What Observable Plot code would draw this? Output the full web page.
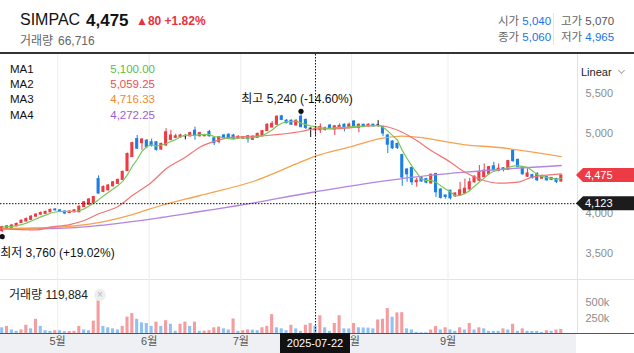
<!DOCTYPE html>
<html><head><meta charset="utf-8">
<script src="https://cdn.jsdelivr.net/npm/d3@7"></script>
<script src="https://cdn.jsdelivr.net/npm/@observablehq/plot@0.6"></script>
<style>
body{margin:0;background:#fff;font-family:'Liberation Sans','Noto Sans CJK KR',sans-serif;}
#root{position:relative;width:634px;height:353px;overflow:hidden;background:#fff;}
.a{position:absolute;white-space:nowrap;line-height:1;}
</style></head><body><div id="root">
<div class="a" style="left:0;top:333px;width:576px;height:20px;background:#eef0f4"></div>
<div class="a" style="left:0;top:333px;width:634px;height:1px;background:#555"></div>
<div class="a" style="left:0;top:52px;width:634px;height:2px;background:#333"></div>
<div class="a" style="left:0;top:279px;width:634px;height:1px;background:#e3e3e3"></div>
<div class="a" style="left:20px;top:12px;font-size:16px;color:#111">SIMPAC</div>
<div class="a" style="left:86px;top:12px;font-size:17px;font-weight:bold;color:#111">4,475</div>
<div class="a" style="left:136px;top:15px;font-size:12px;font-weight:bold;color:#e8323c">▲80 +1.82%</div>
<div class="a" style="left:20px;top:35px;font-size:12px;color:#666">거래량</div>
<div class="a" style="left:58px;top:35px;font-size:12px;color:#666">66,716</div>
<div class="a" style="left:498px;top:16px;font-size:11.5px;color:#666">시가 <span style="color:#1a73e8">5,040</span></div>
<div class="a" style="left:498px;top:32px;font-size:11.5px;color:#666">종가 <span style="color:#1a73e8">5,060</span></div>
<div class="a" style="left:553px;top:13px;width:1px;height:32px;background:#e6e6e6"></div>
<div class="a" style="left:561px;top:16px;font-size:11.5px;color:#666">고가 <span style="color:#555">5,070</span></div>
<div class="a" style="left:561px;top:32px;font-size:11.5px;color:#666">저가 <span style="color:#1a73e8">4,965</span></div>
<div class="a" style="left:581px;top:67px;font-size:11px;color:#222">Linear</div>
<div class="a" style="left:619px;top:68px;width:4px;height:4px;border-right:1px solid #aaa;border-bottom:1px solid #aaa;transform:rotate(45deg)"></div>
</div>
<script>
// ---- data ----
const openP  = [3780,3810,3820,3840,3880,3900,3920,3960,3985,3995,4015,4050,4040,4025,4005,4015,4015,4080,4110,4130,
4430,4270,4290,4340,4370,4420,4530,4705,4930,4880,4910,4890,4890,4800,4850,4920,4945,4950,4965,4965,
5035,4965,4965,5020,4940,4895,4975,4985,4975,4935,4935,4965,4920,4945,4965,5030,5075,5110,5215,5160,
5160,5100,5210,5170,5060,5040,5040,5045,5100,5050,5075,5110,5080,5150,5070,5110,5090,5110,5100,5080,
4975,4900,4870,4730,4550,4570,4390,4450,4430,4375,4495,4300,4225,4285,4215,4230,4250,4300,4390,4410,
4455,4495,4590,4530,4565,4545,4785,4670,4580,4460,4480,4495,4435,4455,4420,4430,4400];
const highP  = [3840,3850,3860,3880,3920,3945,3975,4000,4020,4030,4055,4060,4050,4030,4035,4045,4095,4150,4185,4215,
4470,4345,4360,4400,4430,4530,4755,4890,4975,4935,4925,4930,4900,4880,5060,5040,4990,4990,4985,5015,
5080,5015,4990,5040,4955,4960,4990,4995,4990,4970,4960,4975,4970,5005,5035,5120,5150,5220,5225,5175,
5170,5170,5240,5180,5070,5070,5120,5080,5110,5100,5120,5120,5130,5160,5120,5115,5120,5115,5160,5090,
4990,4910,4880,4740,4560,4580,4440,4460,4440,4490,4500,4310,4230,4290,4260,4390,4430,4440,4470,4600,
4620,4590,4640,4620,4575,4665,4800,4680,4590,4560,4490,4510,4480,4460,4450,4440,4480];
const lowP   = [3760,3800,3815,3835,3875,3895,3915,3955,3980,3990,4010,4030,4010,3985,4000,4010,4010,4075,4105,4125,
4240,4260,4280,4330,4365,4415,4525,4700,4800,4790,4810,4830,4780,4790,4840,4910,4935,4940,4920,4955,
4915,4955,4960,4955,4850,4870,4930,4925,4925,4930,4930,4880,4915,4940,4960,5025,5070,5100,5160,5120,
5100,5095,5070,5050,4950,4965,5000,5030,5050,4975,5060,5020,5060,5070,5010,5080,5080,5080,5080,4960,
4750,4800,4800,4340,4390,4350,4330,4390,4370,4370,4200,4180,4180,4170,4200,4215,4240,4290,4380,4400,
4445,4480,4530,4520,4520,4540,4640,4570,4480,4450,4430,4400,4430,4405,4410,4375,4390];
const closeP = [3830,3840,3850,3870,3910,3930,3960,3985,4005,4020,4045,4040,4020,4000,4025,4040,4085,4140,4175,4205,
4250,4330,4350,4390,4420,4520,4745,4880,4810,4925,4830,4850,4795,4870,5015,4975,4965,4975,4965,5005,
4975,5005,4980,4965,4880,4955,4945,4935,4935,4960,4955,4930,4960,4995,5030,5110,5120,5210,5170,5130,
5110,5160,5080,5070,5060,5060,5080,5065,5060,5090,5095,5060,5110,5080,5110,5090,5110,5090,5100,5000,
4860,4815,4820,4450,4490,4390,4410,4400,4385,4485,4265,4195,4205,4190,4250,4290,4310,4390,4460,4515,
4535,4580,4545,4560,4545,4655,4655,4580,4490,4500,4445,4415,4470,4415,4445,4395,4475];
const volume = [93000,116000,58000,35000,58000,134000,76000,232000,116000,46000,
35000,46000,44000,30000,33000,36000,116000,58000,46000,203000,
535000,116000,93000,76000,58000,116000,267000,325000,232000,174000,
163000,116000,186000,116000,209000,151000,35000,151000,186000,116000,
186000,35000,38000,46000,93000,105000,76000,58000,238000,35000,
46000,58000,55000,46000,93000,116000,308000,93000,76000,46000,
134000,76000,35000,134000,163000,119884,290000,93000,35000,163000,
290000,76000,74000,163000,93000,90000,88000,76000,221000,232000,
407000,267000,337000,340000,76000,58000,17000,12000,12000,58000,
116000,58000,93000,58000,35000,93000,58000,163000,58000,93000,
76000,35000,35000,35000,76000,58000,151000,35000,76000,35000,
35000,35000,17000,46000,35000,58000,66716];
// moving averages (index, value)
const ma2Idx = [0,7,10,14,17,20,24,27,31,34,38,41,45,48,55,62,65,69,78,83,86,89,93,96,100,103,107,110,116];
const ma2Val = [3809,3796,3829,3862,3912,3996,4087,4225,4391,4559,4704,4829,4921,4954,4975,5025,5059,5059,5100,5016,4912,4787,4641,4516,4412,4379,4391,4454,4496];
const ma3Idx = [0,10,20,27,33,41,52,62,65,72,79,83,86,96,103,116];
const ma3Val = [3812,3825,3887,3987,4100,4225,4400,4645,4716,4829,4941,4966,4954,4859,4825,4712];
const ma4Idx = [0,10,20,33,41,49,65,83,96,116];
const ma4Val = [3812,3812,3850,3950,4025,4100,4272,4437,4516,4600];
const monthStart = [12,31,50,73,93];
const monthLabel = ["5월","6월","7월","8월","9월"];
const priceTicks = [3500,4000,5000,5500];
const volTicks = [250000,500000];
const maNames = ["MA1","MA2","MA3","MA4"];
const maValues = ["5,100.00","5,059.25","4,716.33","4,272.25"];
const maColors = ["#5dbb46","#ef4b55","#f5891f","#9a5fd2"];
const maLineColors = ["#79c85a","#f37474","#f7a24e","#b384e2"];
const crossIdx = 65, crossLabel = "2025-07-22";
const lastPrice = 4475, crossPrice = 4123;
const hiIdx = 62, hiVal = 5240, hiLabel = "최고 5,240 (-14.60%)";
const loIdx = 0, loVal = 3760, loLabel = "최저 3,760 (+19.02%)";

// ---- build ----
const RED = "#ec3b45", BLUE = "#1b7fe3";
const FONT = "'Liberation Sans','Noto Sans CJK KR',sans-serif";
const candles = closeP.map((c, i) => ({i, o: openP[i], h: highP[i], l: lowP[i], c, v: volume[i],
  vup: i > 0 && volume[i] > volume[i - 1]}));
const col = d => d.c > d.o ? RED : d.c < d.o ? BLUE : "#111";
const pts = (ix, vals) => ix.map((x, k) => ({x, y: vals[k]}));
const xDomain = [-0.353, 119.36];
const grid = monthStart.map(s => s - 0.5);
const root = document.getElementById("root");
const style = {background: "transparent", fontFamily: FONT, fontSize: "11px", overflow: "visible"};

const price = Plot.plot({
  width: 634, height: 225, marginTop: 0, marginBottom: 0, marginLeft: 0, marginRight: 57,
  x: {domain: xDomain, axis: null},
  y: {domain: [3175, 5987.5], axis: null},
  style,
  marks: [
    Plot.ruleX(grid, {stroke: "#ededed"}),
    Plot.ruleX([xDomain[1]], {stroke: "#e2e2e2"}),
    Plot.axisY({anchor: "right", ticks: priceTicks, tickFormat: d3.format(","), tickSize: 0, tickPadding: 8, fill: "#8c8c8c", fontSize: 11, label: null}),
    Plot.ruleX(candles, {x: "i", y1: "l", y2: "h", stroke: col, strokeWidth: 1}),
    Plot.rect(candles, {x1: d => d.i - 0.32, x2: d => d.i + 0.32, y1: "o", y2: "c", fill: col, insetTop: -0.5, insetBottom: -0.5}),
    Plot.line(pts(ma4Idx, ma4Val), {x: "x", y: "y", curve: "monotone-x", stroke: maLineColors[3], strokeWidth: 1.3}),
    Plot.line(pts(ma3Idx, ma3Val), {x: "x", y: "y", curve: "monotone-x", stroke: maLineColors[2], strokeWidth: 1.3}),
    Plot.line(pts(ma2Idx, ma2Val), {x: "x", y: "y", curve: "monotone-x", stroke: maLineColors[1], strokeWidth: 1.2}),
    Plot.lineY(candles, Plot.windowY({k: 5, anchor: "end"}, {x: "i", y: "c", stroke: maLineColors[0], strokeWidth: 1.2})),
    Plot.ruleY([crossPrice], {stroke: "#111", strokeDasharray: "1.5,1.5"}),
    Plot.ruleX([crossIdx], {stroke: "#111", strokeDasharray: "1.5,1.5"}),
    Plot.dot([{x: hiIdx, y: hiVal}], {x: "x", y: "y", r: 2.6, fill: "#111", dy: -3}),
    Plot.dot([{x: loIdx, y: loVal}], {x: "x", y: "y", r: 2.6, fill: "#111", dy: 4}),
    Plot.text([{x: hiIdx, y: hiVal, t: hiLabel}], {x: "x", y: "y", text: "t", dy: -15, dx: -4, fontSize: 12, fill: "#111"}),
    Plot.text([{x: loIdx, y: loVal, t: loLabel}], {x: "x", y: "y", text: "t", dy: 20, dx: -2, textAnchor: "start", fontSize: 12, fill: "#111"})
  ]
});
price.style.position = "absolute"; price.style.left = "0px"; price.style.top = "54px";
root.appendChild(price);

// price tags on the right axis
const ys = price.scale("y");
const psvg = d3.select(price);
[[lastPrice, "#ec3b45"], [crossPrice, "#1c1c1c"]].forEach(([v, f]) => {
  const y = ys.apply(v), x0 = 576;
  psvg.append("path").attr("d", `M${x0},${y} L${x0 + 7},${y - 7} H634 V${y + 7} H${x0 + 7} Z`).attr("fill", f);
  psvg.append("text").attr("x", 585).attr("y", y).attr("dy", "0.35em").attr("fill", "#fff")
    .attr("text-anchor", "start").attr("font-size", 11).attr("font-family", FONT).text(d3.format(",")(v));
});

const vol = Plot.plot({
  width: 634, height: 74, marginTop: 0, marginBottom: 20, marginLeft: 0, marginRight: 57,
  x: {domain: xDomain, axis: null},
  y: {domain: [0, 882000], axis: null},
  style,
  marks: [
    Plot.ruleX(grid, {stroke: "#ededed"}),
    Plot.ruleX([xDomain[1]], {stroke: "#e2e2e2"}),
    Plot.rect(candles, {x1: d => d.i - 0.32, x2: d => d.i + 0.32, y1: 0, y2: "v", fill: d => d.vup ? "#f49ca0" : "#8fc2f3"}),
    Plot.axisY({anchor: "right", ticks: volTicks, tickFormat: d => d / 1000 + "k", tickSize: 0, tickPadding: 8, fill: "#8c8c8c", fontSize: 11, label: null}),
    Plot.axisX({ticks: grid, tickFormat: d => monthLabel[grid.indexOf(d)], tickSize: 0, tickPadding: 4, fill: "#555", fontSize: 11, label: null}),
    Plot.ruleX([crossIdx], {stroke: "#111", strokeDasharray: "1.5,1.5"})
  ]
});
vol.style.position = "absolute"; vol.style.left = "0px"; vol.style.top = "279px";
root.appendChild(vol);

// crosshair date box
const cx = vol.scale("x").apply(crossIdx);
const vsvg = d3.select(vol);
vsvg.append("rect").attr("x", cx - 35).attr("y", 54).attr("width", 70).attr("height", 20).attr("fill", "#111");
vsvg.append("text").attr("x", cx).attr("y", 64).attr("dy", "0.35em").attr("text-anchor", "middle")
  .attr("fill", "#fff").attr("font-size", 11).attr("font-family", FONT).text(crossLabel);

// legends
maNames.forEach((n, k) => {
  const top = 64 + k * 15.2;
  const a = document.createElement("div"); a.className = "a";
  a.style.cssText = `left:10px;top:${top}px;font-size:11.5px;color:#111`; a.textContent = n; root.appendChild(a);
  const b = document.createElement("div"); b.className = "a";
  b.style.cssText = `right:${634 - 155}px;top:${top}px;font-size:11.5px;color:${maColors[k]}`; b.textContent = maValues[k]; root.appendChild(b);
});
const vl = document.createElement("div"); vl.className = "a";
vl.style.cssText = "left:9px;top:289px;font-size:12px;color:#222"; vl.textContent = "거래량 119,884"; root.appendChild(vl);
const xc = document.createElement("div"); xc.className = "a";
xc.style.cssText = "left:94px;top:289px;width:12px;height:12px;border-radius:6px;background:#eee;color:#bbb;font-size:10px;text-align:center;line-height:12px";
xc.textContent = "×"; root.appendChild(xc);
</script>
</body></html>
